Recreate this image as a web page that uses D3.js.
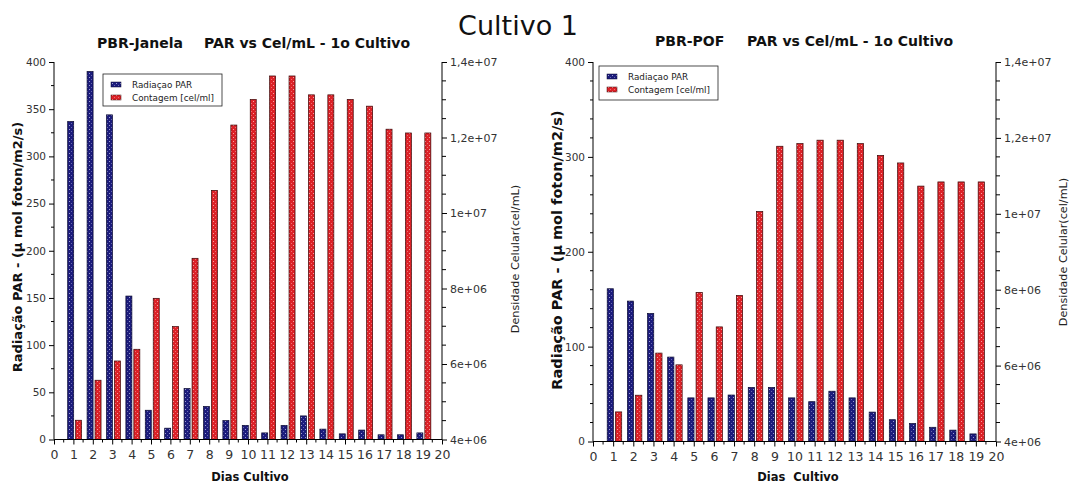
<!DOCTYPE html>
<html>
<head>
<meta charset="utf-8">
<script src="https://cdn.jsdelivr.net/npm/d3@7"></script>
<style>
  html, body { margin: 0; padding: 0; background: #fff; }
  svg { display: block; }
  text { font-family: "DejaVu Sans", Verdana, sans-serif; }
</style>
</head>
<body>
<script>
// ---------------- DATA ----------------
const days = [1, 2, 3, 4, 5, 6, 7, 8, 9, 10, 11, 12, 13, 14, 15, 16, 17, 18, 19];

// PBR-Janela
const janelaPAR = [337, 390, 344, 152, 31, 12, 54, 35, 20, 15, 7, 15, 25, 11, 6, 10, 5, 5, 7];
const janelaCel = [4.51e6, 5.57e6, 6.08e6, 6.39e6, 7.74e6, 6.99e6, 8.8e6, 1.06e7, 1.233e7, 1.301e7,
                   1.363e7, 1.363e7, 1.313e7, 1.313e7, 1.301e7, 1.283e7, 1.222e7, 1.212e7, 1.212e7];

// PBR-POF
const pofPAR = [161, 148, 135, 89, 46, 46, 49, 57, 57, 46, 42, 53, 46, 31, 23, 19, 15, 12, 8];
const pofCel = [4.78e6, 5.22e6, 6.33e6, 6.02e6, 7.93e6, 7.02e6, 7.85e6, 1.006e7, 1.178e7, 1.185e7,
                1.194e7, 1.194e7, 1.185e7, 1.154e7, 1.134e7, 1.073e7, 1.084e7, 1.084e7, 1.084e7];

// tick values / labels
const xTicks = d3.range(0, 21);
const parTicksJanela = [0, 50, 100, 150, 200, 250, 300, 350, 400];
const parTicksPOF = [0, 100, 200, 300, 400];
const celTicks = [4e6, 6e6, 8e6, 1e7, 1.2e7, 1.4e7];
const celTickLabels = ["4e+06", "6e+06", "8e+06", "1e+07", "1,2e+07", "1,4e+07"];
const seriesNames = ["Radiaçao PAR", "Contagem [cel/ml]"];

// ---------------- DRAW ----------------
const W = 1070, H = 486;
const svg = d3.select("body").append("svg").attr("width", W).attr("height", H);

const NAVY = "#1c1c7c", RED = "#dc2228";
const defs = svg.append("defs");
function makePattern(id, base, dot) {
  const p = defs.append("pattern").attr("id", id).attr("patternUnits", "userSpaceOnUse")
    .attr("width", 4).attr("height", 4);
  p.append("rect").attr("width", 4).attr("height", 4).attr("fill", base);
  p.append("rect").attr("x", 1).attr("y", 1).attr("width", 1).attr("height", 1).attr("fill", dot).attr("opacity", 0.75);
  p.append("rect").attr("x", 3).attr("y", 3).attr("width", 1).attr("height", 1).attr("fill", dot).attr("opacity", 0.45);
}
makePattern("patBlue", NAVY, "#c8c8f0");
makePattern("patRed", RED, "#ffc8c8");

svg.append("text").attr("x", 518).attr("y", 35).attr("text-anchor", "middle")
  .attr("font-size", 27).attr("fill", "#111").text("Cultivo 1");

function drawPanel(cfg) {
  const g = svg.append("g");
  const x = d3.scaleLinear().domain([0, 20]).range(cfg.xRange);
  const yP = d3.scaleLinear().domain([0, 400]).range(cfg.yRange);
  const yC = d3.scaleLinear().domain([4e6, 1.4e7]).range(cfg.yRange);
  const unit = x(1) - x(0);
  const bw = 0.31 * unit;

  // bars
  g.selectAll("rect.par").data(days.map((d, i) => ({ d, v: cfg.par[i] }))).join("rect")
    .attr("class", "par")
    .attr("x", p => x(p.d - 0.14) - bw / 2).attr("width", bw)
    .attr("y", p => yP(p.v)).attr("height", p => yP(0) - yP(p.v))
    .attr("fill", "url(#patBlue)").attr("stroke", "#0a0a30").attr("stroke-width", 0.7);
  g.selectAll("rect.cel").data(days.map((d, i) => ({ d, v: cfg.cel[i] }))).join("rect")
    .attr("class", "cel")
    .attr("x", p => x(p.d + 0.27) - bw / 2).attr("width", bw)
    .attr("y", p => yC(p.v)).attr("height", p => yC(4e6) - yC(p.v))
    .attr("fill", "url(#patRed)").attr("stroke", "#3a0808").attr("stroke-width", 0.7);

  // left axis
  const yAxisL = d3.axisLeft(yP).tickValues(cfg.parTicks).tickSize(5).tickPadding(3);
  const gl = g.append("g").attr("transform", `translate(${cfg.xRange[0]},0)`).call(yAxisL);
  gl.selectAll(".tick text").attr("font-size", 10.5).attr("fill", "#333").attr("font-family", "DejaVu Sans");
  gl.append("g").selectAll("line").data(d3.range(0, 401, cfg.parMinor).filter(v => !cfg.parTicks.includes(v)))
    .join("line").attr("x1", -3).attr("x2", 0).attr("y1", yP).attr("y2", yP).attr("stroke", "#000");

  // right axis
  const yAxisR = d3.axisRight(yC).tickValues(celTicks).tickFormat((d, i) => celTickLabels[i]).tickSize(5).tickPadding(3);
  const gr = g.append("g").attr("transform", `translate(${cfg.xRange[1]},0)`).call(yAxisR);
  gr.selectAll(".tick text").attr("font-size", 11).attr("fill", "#333").attr("font-family", "DejaVu Sans");
  gr.append("g").selectAll("line").data(d3.range(4e6, 1.4e7 + 1, 5e5).filter(v => Math.round(v / 1e5) % 20 !== 0))
    .join("line").attr("x1", 0).attr("x2", 4).attr("y1", yC).attr("y2", yC).attr("stroke", "#000");

  // bottom axis
  const xAxis = d3.axisBottom(x).tickValues(xTicks).tickFormat(d3.format("d")).tickSize(5).tickPadding(6);
  const gb = g.append("g").attr("transform", `translate(0,${cfg.yRange[0]})`).call(xAxis);
  gb.selectAll(".tick text").attr("font-size", 12.5).attr("fill", "#333").attr("font-family", "DejaVu Sans");
  gb.append("g").selectAll("line").data(d3.range(0.5, 20, 1))
    .join("line").attr("x1", x).attr("x2", x).attr("y1", 0).attr("y2", 3).attr("stroke", "#000");
  [gl, gr, gb].forEach(a => a.select(".domain").attr("stroke", "#000"));
  gl.select(".domain").attr("d", `M0,${cfg.yRange[0]}V${cfg.yRange[1]}`);
  gr.select(".domain").attr("d", `M0,${cfg.yRange[0]}V${cfg.yRange[1]}`);
  gb.select(".domain").attr("d", `M${cfg.xRange[0]},0H${cfg.xRange[1]}`);

  // titles
  g.append("text").attr("x", cfg.t1x).attr("y", cfg.ty).attr("font-weight", "bold").attr("font-size", 14)
    .attr("fill", "#111").text(cfg.t1);
  g.append("text").attr("x", cfg.t2x).attr("y", cfg.ty).attr("font-weight", "bold").attr("font-size", 14)
    .attr("fill", "#111").text("PAR vs Cel/mL - 1o Cultivo");

  // x label
  g.append("text").attr("x", cfg.xlabX).attr("y", 481).attr("text-anchor", "middle")
    .attr("font-weight", "bold").attr("font-size", 11.5).attr("fill", "#111")
    .attr("xml:space", "preserve").style("white-space", "pre").text(cfg.xlab);

  // left y label
  const ymid = (cfg.yRange[0] + cfg.yRange[1]) / 2;
  g.append("text").attr("transform", `translate(${cfg.ylabLX},${cfg.ylabLY}) rotate(-90)`)
    .attr("text-anchor", "middle").attr("font-weight", "bold").attr("font-size", cfg.ylabLSize).attr("fill", "#111")
    .text("Radiação PAR - (µ mol foton/m2/s)");
  // right y label
  g.append("text").attr("transform", `translate(${cfg.ylabRX},${cfg.ylabRY}) rotate(-90)`)
    .attr("text-anchor", "middle").attr("font-size", 11.2).attr("fill", "#222")
    .text("Densidade Celular(cel/mL)");

  // legend
  const L = cfg.legend;
  const lg = g.append("g").attr("transform", `translate(${L.x},${L.y})`);
  lg.append("rect").attr("width", L.w).attr("height", L.h).attr("fill", "#fff").attr("stroke", "#222").attr("stroke-width", 0.8);
  ["url(#patBlue)", "url(#patRed)"].forEach((f, i) => {
    lg.append("rect").attr("x", 8).attr("y", 8 + i * 13).attr("width", 10).attr("height", 5)
      .attr("fill", f).attr("stroke", i ? "#3a0808" : "#0a0a30").attr("stroke-width", 0.5);
    lg.append("text").attr("x", 29).attr("y", 14 + i * 13).attr("font-size", 8.8).attr("fill", "#222").text(seriesNames[i]);
  });
}

drawPanel({
  xRange: [54, 442], yRange: [439.5, 62],
  par: janelaPAR, cel: janelaCel,
  parTicks: parTicksJanela, parMinor: 25,
  t1: "PBR-Janela", t1x: 97, t2x: 204, ty: 48,
  xlab: "Dias Cultivo", xlabX: 250,
  ylabLX: 22, ylabLY: 247, ylabLSize: 13,
  ylabRX: 519, ylabRY: 259,
  legend: { x: 103, y: 74, w: 119, h: 32 }
});

drawPanel({
  xRange: [593, 996], yRange: [441.5, 62],
  par: pofPAR, cel: pofCel,
  parTicks: parTicksPOF, parMinor: 20,
  t1: "PBR-POF", t1x: 655, t2x: 747, ty: 46,
  xlab: "Dias  Cultivo", xlabX: 798,
  ylabLX: 562, ylabLY: 250, ylabLSize: 14.5,
  ylabRX: 1067, ylabRY: 252,
  legend: { x: 599, y: 66, w: 119, h: 34 }
});
</script>
</body>
</html>
